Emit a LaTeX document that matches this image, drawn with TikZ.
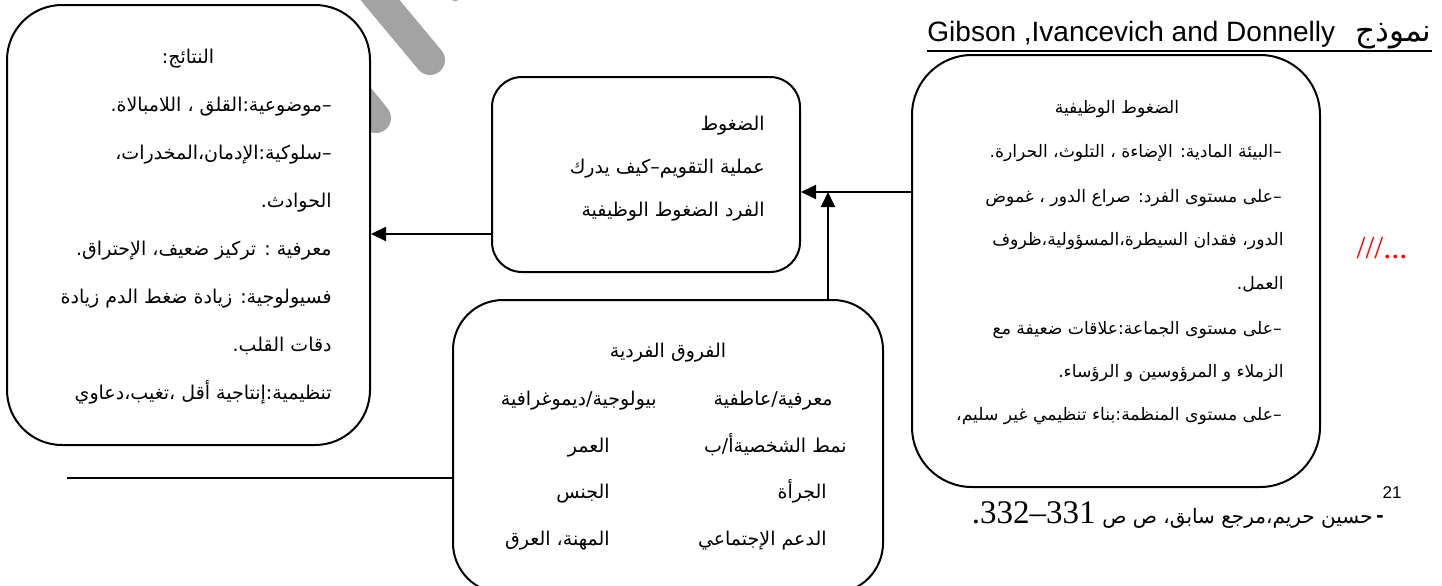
\documentclass[tikz,border=0pt]{standalone}
\usepackage{fontspec}
\setmainfont{Liberation Serif}
\setsansfont{Liberation Sans}
\newfontfamily\arabicfont[Script=Arabic]{DejaVu Sans}
\TeXXeTstate=1
\usepackage{tikz}
\usetikzlibrary{arrows.meta,fit}
\definecolor{watermark}{rgb}{0.64,0.64,0.64}
\definecolor{notered}{rgb}{1.00,0.00,0.00}
\newcommand{\arsize}{\arabicfont\fontsize{9.5}{11}\selectfont}
\newcommand{\arsmall}{\arabicfont\fontsize{8.6}{10}\selectfont}
\tikzstyle{stressbox}=[rectangle, draw, fill=white, line width=1pt, inner sep=0pt]
\tikzstyle{arline}=[anchor=east, inner sep=0pt, text height=8pt, text depth=3pt, font=\arsize]
\tikzstyle{arhead}=[anchor=center, inner sep=0pt, text height=8pt, text depth=3pt, font=\arsize]
\tikzstyle{flow}=[->, line width=1pt]
\tikzstyle{stroke}=[watermark, line cap=round]
\newcommand{\arline}[3]{
	\node[arline] (#1) at (#2) {#3};}
\newcommand{\arhead}[3]{
	\node[arhead] (#1) at (#2) {#3};}

\begin{document}
\begin{tikzpicture}[x=0.5pt,y=-0.5pt,>={Triangle[length=7.5pt,width=7pt]}]
\useasboundingbox (0,0) rectangle (1442,585);
\clip (0,0) rectangle (1442,585);
\draw[stroke, line width=15pt] (330,-60) -- (430,60);
\draw[stroke, line width=15pt] (300,24) -- (376,118);
\draw[stroke, line width=6pt] (455,-5) arc (200:300:45);
\node[stressbox, fit={(7,5) (370,445)}, rounded corners=27.5pt] (results) {};
\node[stressbox, fit={(492,77) (800,272)}, rounded corners=15pt] (appraisal) {};
\node[stressbox, fit={(453,300) (883,593)}, rounded corners=25pt] (traits) {};
\node[stressbox, fit={(912,55) (1320,487)}, rounded corners=30pt] (jobstress) {};
\arhead{reshead}{188,58}{\beginR النتائج:\endR}
\arline{res1}{332,106}{\beginR –موضوعية:القلق ، اللامبالاة.\endR}
\arline{res2}{332,154}{\beginR –سلوكية:الإدمان،المخدرات،\endR}
\arline{res3}{332,202}{\beginR الحوادث.\endR}
\arline{res4}{332,250}{\beginR معرفية : تركيز ضعيف، الإحتراق.\endR}
\arline{res5}{332,298}{\beginR فسيولوجية: زيادة ضغط الدم زيادة\endR}
\arline{res6}{332,346}{\beginR دقات القلب.\endR}
\arline{res7}{332,394}{\beginR تنظيمية:إنتاجية أقل ،تغيب،دعاوي\endR}
\arline{app1}{765,125}{\beginR الضغوط\endR}
\arline{app2}{765,168}{\beginR عملية التقويم–كيف يدرك\endR}
\arline{app3}{765,211}{\beginR الفرد الضغوط الوظيفية\endR}
\arhead{trhead}{668,352}{\beginR الفروق الفردية\endR}
\arline{tr1a}{833,400}{\beginR معرفية/عاطفية\endR}
\arline{tr1b}{657,400}{\beginR بيولوجية/ديموغرافية\endR}
\arline{tr2a}{847,447}{\beginR نمط الشخصيةأ/ب\endR}
\arline{tr2b}{610,447}{\beginR العمر\endR}
\arline{tr3a}{827,493}{\beginR الجرأة\endR}
\arline{tr3b}{610,493}{\beginR الجنس\endR}
\arline{tr4a}{827,540}{\beginR الدعم الإجتماعي\endR}
\arline{tr4b}{610,540}{\beginR المهنة، العرق\endR}
\arhead{jshead}{1117,108}{\arsmall\beginR الضغوط الوظيفية\endR}
\arline{js1}{1282,152}{\arsmall\beginR –البيئة المادية: الإضاءة ، التلوث، الحرارة.\endR}
\arline{js2}{1282,197}{\arsmall\beginR –على مستوى الفرد: صراع الدور ، غموض\endR}
\arline{js3}{1284,240}{\arsmall\beginR الدور، فقدان السيطرة،المسؤولية،ظروف\endR}
\arline{js4}{1284,284}{\arsmall\beginR العمل.\endR}
\arline{js5}{1282,329}{\arsmall\beginR –على مستوى الجماعة:علاقات ضعيفة مع\endR}
\arline{js6}{1284,372}{\arsmall\beginR الزملاء و المرؤوسين و الرؤساء.\endR}
\arline{js7}{1282,415}{\arsmall\beginR –على مستوى المنظمة:بناء تنظيمي غير سليم،\endR}
\coordinate (join) at (828,192);
\coordinate (conseq) at (0,234);
\coordinate (rule) at (67,478);
\path [flow] (jobstress.west |- join) edge (appraisal.east |- join);
\path [flow] (traits.north -| join) edge (join);
\path [flow] (appraisal.west |- conseq) edge (results.east |- conseq);
\draw[line width=1pt] (rule) -- (traits.west |- rule);
\node[anchor=base east, inner sep=0pt] (title) at (1432,41) {{\sffamily\fontsize{14}{16}\selectfont Gibson ,Ivancevich and Donnelly}\hspace{10pt}{\arabicfont\fontsize{15.5}{17}\selectfont\beginR نموذج\endR}};
\draw[line width=1pt] ([yshift=-5pt]title.base west) -- ([yshift=-5pt]title.base east);
\node[text=notered, font=\fontsize{16}{18}\selectfont, inner sep=0pt] (cont) at (1382,248) {///...};
\node[anchor=base east, inner sep=0pt, font=\sffamily\fontsize{8.5}{10}\selectfont] (fnmark) at (1402,498) {21};
\node[anchor=base east, inner sep=0pt, font=\sffamily\bfseries\fontsize{11}{13}\selectfont] (fndash) at (1384,522) {-};
\node[anchor=base east, inner sep=0pt, font=\arabicfont\fontsize{10}{12}\selectfont] (fnref) at (1373,523) {\beginR حسين حريم،مرجع سابق، ص ص\endR};
\node[anchor=base east, inner sep=0pt, font=\fontsize{16.5}{18}\selectfont] (fnpages) at ([xshift=-3pt]fnref.base west) {.\kern0pt 332–331};
\end{tikzpicture}
\end{document}
